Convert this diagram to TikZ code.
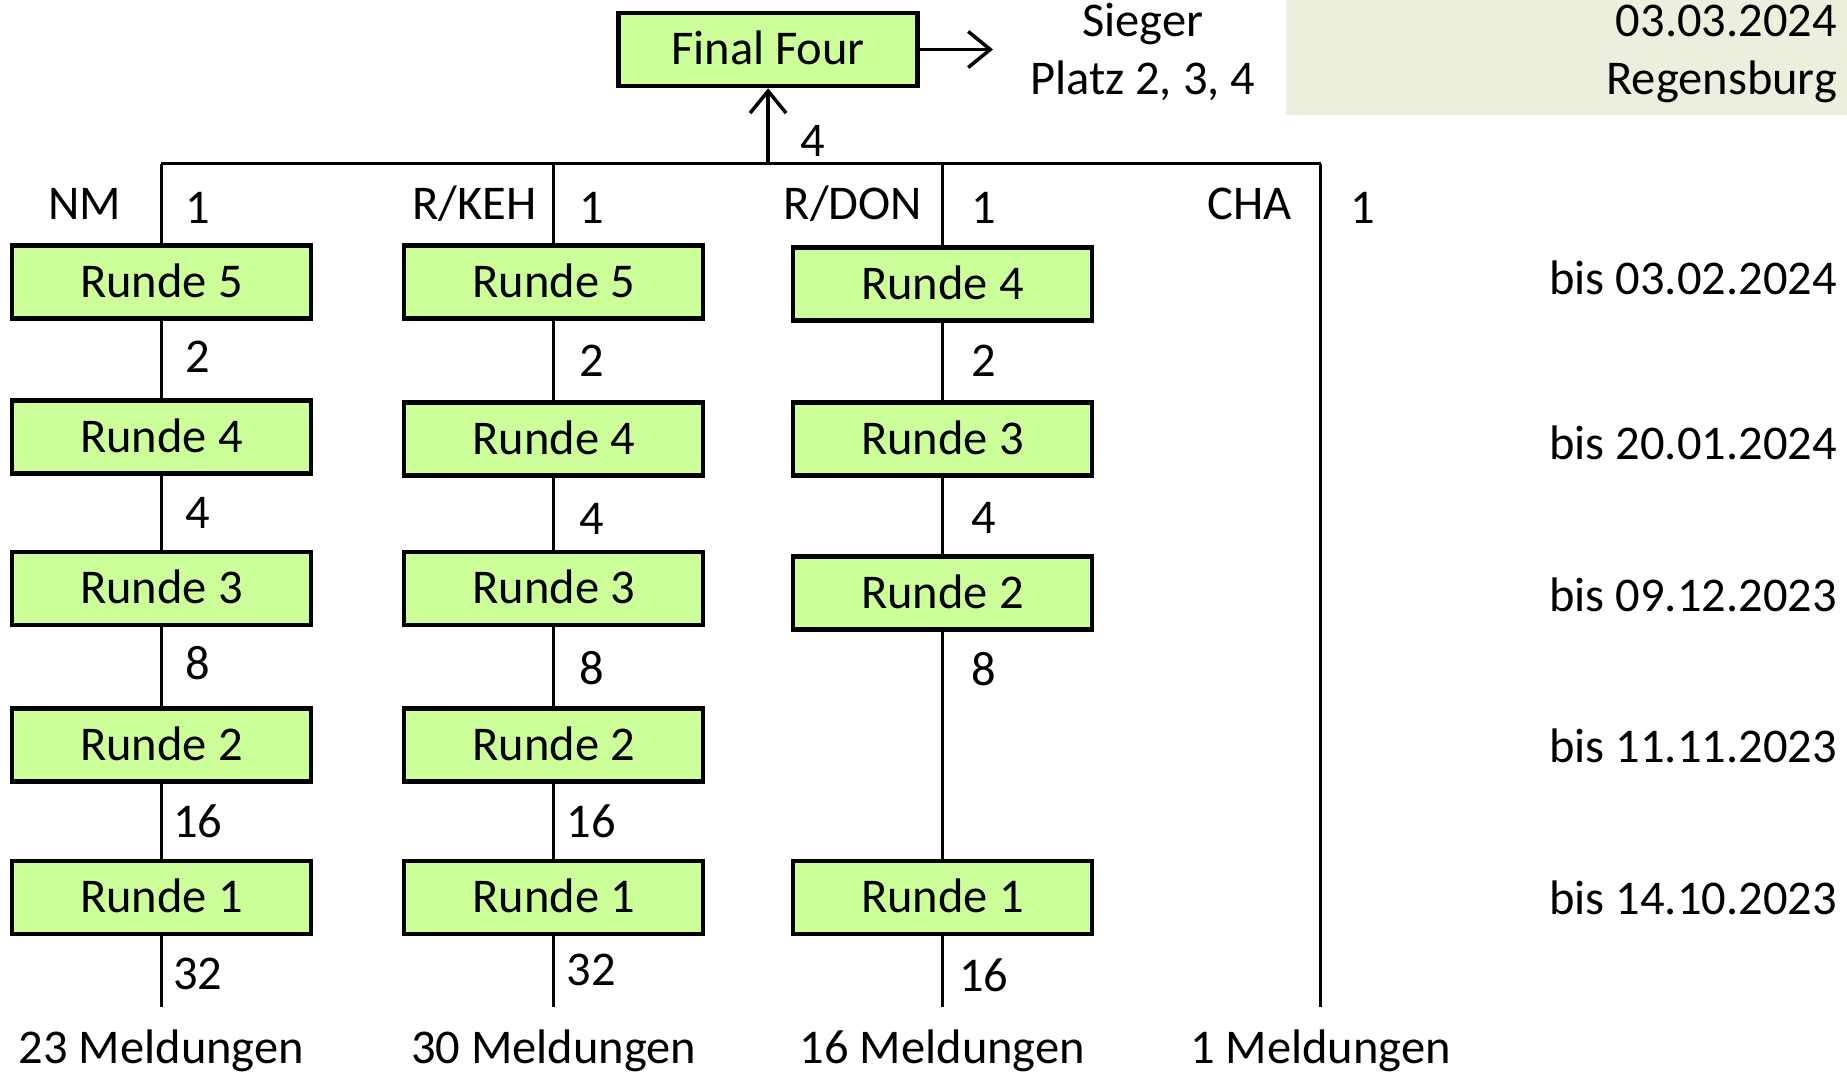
\documentclass[tikz,border=0pt]{standalone}
\usepackage{fontspec}
\setmainfont{Carlito}
\usepackage{tikz}
\usetikzlibrary{arrows.meta,positioning}
\definecolor{hellgruen}{RGB}{204,255,153}
\definecolor{hintergrund}{RGB}{235,240,222}
\tikzset{>={Straight Barb[length=2.2mm,width=3.6mm]}}
\tikzset{runde/.style={draw, line width=1.3pt, fill=hellgruen, minimum width=2.99cm, minimum height=0.73cm, text height=8.7pt, text depth=0pt, inner sep=0pt},
	zahl/.style={text height=8.7pt, text depth=0pt, inner sep=0pt},
	datum/.style={zahl, anchor=east},
	linie/.style={line width=1pt}}

\begin{document}
\begin{tikzpicture}[x=1cm, y=-1cm, font=\fontsize{13.8}{16}\selectfont]
		\useasboundingbox (0,0) rectangle (18.47,10.74);
		\fill[hintergrund] (12.864,0) rectangle (18.47,1.154);
		
		% Final Four
		\node[runde] (ff) at (7.681,0.495) {Final Four};
		\coordinate (pfeil) at (9.93,0.495);
		\draw[linie,->] (ff) -- (pfeil);
		\node[zahl] (sieger) at (11.427,0.212) {Sieger};
		\node[zahl] (platz) at (11.427,0.789) {Platz 2, 3, 4};
		\node[datum] (termin) at (18.377,0.212) {03.03.2024};
		\node[datum] (ort) at (18.377,0.789) {Regensburg};
		
		% obere Linie
		\coordinate (t1) at (1.614,1.637);
		\coordinate (t2) at (5.537,1.637);
		\coordinate (t3) at (9.424,1.637);
		\coordinate (t4) at (13.205,1.637);
		\coordinate (t0) at (7.681,1.637);
		\draw[linie] (t1) -- (t4);
		\draw[linie,->] (t0) -- (ff);
		\node[zahl] (z0) at (8.128,1.414) {4};
		
		% Spalten
		\node[zahl] (nm) at (0.848,2.038) {NM};
		\node[zahl] (keh) at (4.747,2.038) {R/KEH};
		\node[zahl] (don) at (8.529,2.038) {R/DON};
		\node[zahl] (cha) at (12.499,2.038) {CHA};
		\node[zahl] (e1) at (1.979,2.085) {1};
		\node[zahl] (e2) at (5.914,2.085) {1};
		\node[zahl] (e3) at (9.836,2.085) {1};
		\node[zahl] (e4) at (13.63,2.085) {1};
		
		% NM
		\node[runde] (nm5) at (1.614,2.821) {Runde 5};
		\node[runde] (nm4) at (1.614,4.370) {Runde 4};
		\node[runde] (nm3) at (1.614,5.884) {Runde 3};
		\node[runde] (nm2) at (1.614,7.451) {Runde 2};
		\node[runde] (nm1) at (1.614,8.976) {Runde 1};
		\coordinate (b1) at (1.614,10.07);
		\draw[linie] (t1) -- (nm5) -- (nm4) -- (nm3) -- (nm2) -- (nm1) -- (b1);
		\node[zahl] at (1.979,3.569) {2};
		\node[zahl] at (1.979,5.136) {4};
		\node[zahl] at (1.979,6.644) {8};
		\node[zahl] at (1.979,8.222) {16};
		\node[zahl] at (1.979,9.742) {32};
		
		% R/KEH
		\node[runde] (keh5) at (5.537,2.821) {Runde 5};
		\node[runde] (keh4) at (5.537,4.388) {Runde 4};
		\node[runde] (keh3) at (5.537,5.884) {Runde 3};
		\node[runde] (keh2) at (5.537,7.451) {Runde 2};
		\node[runde] (keh1) at (5.537,8.976) {Runde 1};
		\coordinate (b2) at (5.537,10.07);
		\draw[linie] (t2) -- (keh5) -- (keh4) -- (keh3) -- (keh2) -- (keh1) -- (b2);
		\node[zahl] at (5.914,3.616) {2};
		\node[zahl] at (5.914,5.195) {4};
		\node[zahl] at (5.914,6.691) {8};
		\node[zahl] at (5.914,8.222) {16};
		\node[zahl] at (5.914,9.707) {32};
		
		% R/DON
		\node[runde] (don4) at (9.424,2.839) {Runde 4};
		\node[runde] (don3) at (9.424,4.388) {Runde 3};
		\node[runde] (don2) at (9.424,5.931) {Runde 2};
		\node[runde] (don1) at (9.424,8.976) {Runde 1};
		\coordinate (b3) at (9.424,10.07);
		\draw[linie] (t3) -- (don4) -- (don3) -- (don2) -- (don1) -- (b3);
		\node[zahl] at (9.836,3.616) {2};
		\node[zahl] at (9.836,5.183) {4};
		\node[zahl] at (9.836,6.703) {8};
		\node[zahl] at (9.836,9.766) {16};
		
		% CHA
		\coordinate (b4) at (13.205,10.07);
		\draw[linie] (t4) -- (b4);
		
		% Meldungen
		\node[zahl] (m1) at (1.614,10.484) {23 Meldungen};
		\node[zahl] (m2) at (5.537,10.484) {30 Meldungen};
		\node[zahl] (m3) at (9.424,10.484) {16 Meldungen};
		\node[zahl] (m4) at (13.205,10.484) {1 Meldungen};
		
		% Termine
		\node[datum] (d5) at (18.377,2.792) {bis 03.02.2024};
		\node[datum] (d4) at (18.377,4.441) {bis 20.01.2024};
		\node[datum] (d3) at (18.377,5.961) {bis 09.12.2023};
		\node[datum] (d2) at (18.377,7.469) {bis 11.11.2023};
		\node[datum] (d1) at (18.377,8.988) {bis 14.10.2023};
\end{tikzpicture}
\end{document}
